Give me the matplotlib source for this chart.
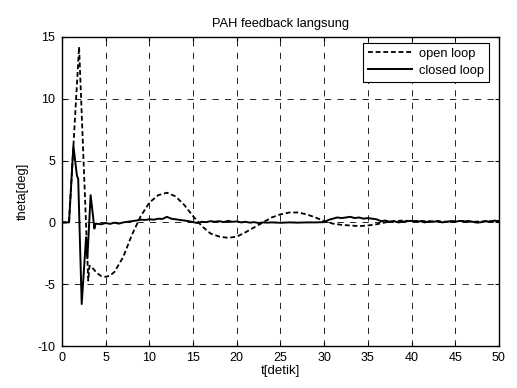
import matplotlib
matplotlib.use("Agg")
import matplotlib.pyplot as plt

plt.rcParams['font.family'] = ['Liberation Sans', 'DejaVu Sans']
plt.rcParams['lines.scale_dashes'] = False
plt.rcParams['axes.unicode_minus'] = False

title = "PAH feedback langsung"
xlabel = "t[detik]"
ylabel = "theta[deg]"
labels = ["open loop", "closed loop"]

t_open = [0, 0.8, 1.95, 3.0, 3.15, 3.5, 4.0, 4.5, 5.0, 5.5, 6.0, 7.0, 8.0, 9.0, 10.0,
          11.0, 12.0, 13.0, 14.0, 15.0, 16.0, 17.0, 18.0, 19.0, 20.0, 21.0, 22.0,
          23.0, 24.0, 25.0, 26.0, 27.0, 28.0, 29.0, 30.0, 31.0, 32.0, 33.0, 34.0,
          35.0, 36.0, 37.0, 38.0, 39.0, 40.0, 41.0, 42.0, 43.0, 44.0, 45.0, 46.0,
          47.0, 48.0, 49.0, 50.0]
y_open = [0, 0, 14.2, -4.7, -3.5, -3.7, -4.1, -4.35, -4.4, -4.3, -4.0, -2.8, -1.0,
          0.5, 1.6, 2.2, 2.4, 2.1, 1.4, 0.5, -0.3, -0.9, -1.15, -1.25, -1.15, -0.8,
          -0.4, 0.0, 0.4, 0.65, 0.8, 0.8, 0.65, 0.4, 0.1, -0.1, -0.2, -0.25, -0.3,
          -0.25, -0.15, 0.0, 0.1, 0.15, 0.1, 0.12, 0.08, 0.1, 0.05, 0.1, 0.12,
          0.05, 0.08, 0.1, 0.12]

t_closed = [0, 0.8, 1.3, 1.7, 1.85, 2.25, 2.75, 2.9, 3.27, 3.5, 3.7, 3.85, 4.5, 5.0,
            5.5, 6.0, 6.5, 7.0, 7.5, 8.0, 8.5, 9.0, 9.5, 10.0, 10.5, 11.0, 11.5,
            12.0, 12.5, 13.0, 13.5, 14.0, 14.5, 15.0, 15.5, 16.0, 16.5, 17.0, 17.5,
            18.0, 18.5, 19.0, 19.5, 20.0, 20.5, 21.0, 21.5, 22.0, 22.5, 23.0, 23.5,
            24.0, 25.0, 26.0, 27.0, 28.0, 29.0, 30.0, 30.5, 31.0, 31.5, 32.0, 32.5,
            33.0, 33.5, 34.0, 34.5, 35.0, 35.5, 36.0, 36.5, 37.0, 37.5, 38.0, 38.5,
            39.0, 39.5, 40.0, 40.5, 41.0, 41.5, 42.0, 42.5, 43.0, 43.5, 44.0, 44.5,
            45.0, 45.5, 46.0, 46.5, 47.0, 47.5, 48.0, 48.5, 49.0, 49.5, 50.0]
y_closed = [0, 0, 6.2, 3.8, 3.5, -6.6, -1.2, -2.9, 2.2, 0.8, -0.5, -0.1, -0.15,
            -0.05, -0.12, -0.02, -0.1, 0.0, 0.05, 0.1, 0.15, 0.22, 0.2, 0.25, 0.22,
            0.3, 0.28, 0.45, 0.3, 0.25, 0.2, 0.15, 0.1, 0.02, -0.05, 0.05, 0.02, 0.1,
            0.05, 0.1, 0.02, 0.12, 0.05, 0.08, 0.0, 0.05, -0.02, 0.02, -0.05, 0.0,
            -0.02, 0.0, -0.03, 0.0, -0.02, 0.0, 0.0, 0.02, 0.2, 0.3, 0.4, 0.35, 0.4,
            0.45, 0.35, 0.4, 0.3, 0.35, 0.3, 0.25, 0.1, 0.15, 0.05, 0.1, 0.0, 0.05,
            0.1, 0.12, 0.05, 0.1, 0.0, 0.08, 0.05, 0.1, 0.0, 0.05, 0.1, 0.05, 0.12,
            0.08, 0.1, 0.05, -0.02, 0.02, 0.1, 0.05, 0.15, 0.08]

fig = plt.figure(figsize=(5.17, 3.88), dpi=100)
ax = fig.add_axes([0.12, 0.108, 0.845, 0.797])

ax.plot(t_open, y_open, color='black', lw=1.3, linestyle=(0, (3.5, 2.0)), label=labels[0])
ax.plot(t_closed, y_closed, color='black', lw=1.4, linestyle='-', label=labels[1])

ax.set_xlim(0, 50)
ax.set_ylim(-10, 15)
ax.set_xticks(range(0, 51, 5))
ax.set_yticks(range(-10, 16, 5))
ax.grid(True, color='black', lw=0.6, linestyle=(0, (4.5, 4.5)))
ax.tick_params(direction='in', top=True, right=True, labelsize=9, length=3)
ax.tick_params(axis='y', pad=5)
ax.tick_params(axis='x', pad=4)
for s in ax.spines.values():
    s.set_linewidth(1.0)

ax.set_title(title, fontsize=9.3, pad=7)
ax.set_xlabel(xlabel, fontsize=9.5, labelpad=1)
ax.set_ylabel(ylabel, fontsize=9.3, labelpad=6)

leg = ax.legend(loc='upper right', bbox_to_anchor=(0.977, 0.981), fontsize=9.3,
                fancybox=False, framealpha=1, edgecolor='black', borderaxespad=0,
                handlelength=3.4, handletextpad=0.5, borderpad=0.4, labelspacing=0.35)
leg.get_frame().set_linewidth(0.8)

fig.savefig("out.png", dpi=100)
